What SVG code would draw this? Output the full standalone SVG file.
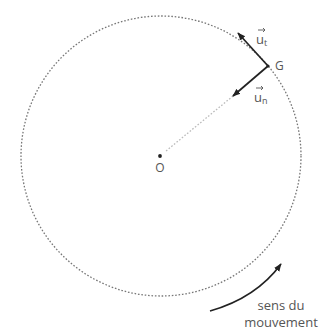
<svg xmlns="http://www.w3.org/2000/svg" width="328" height="333" viewBox="0 0 328 333">
<defs>
<marker id="ah" viewBox="0 0 10 10" refX="9" refY="5" markerWidth="8" markerHeight="8" orient="auto" markerUnits="userSpaceOnUse">
<path d="M0,1 L10,5 L0,9 Z" fill="#222"/>
</marker>
<marker id="ah2" viewBox="0 0 10 10" refX="9" refY="5" markerWidth="8" markerHeight="8" orient="auto" markerUnits="userSpaceOnUse">
<path d="M0,1 L10,5 L0,9 Z" fill="#222"/>
</marker>
</defs>
<style>
.lbl{font-family:"Open Sans","Noto Sans",sans-serif;fill:#555}
.vec{stroke:#222;stroke-width:1.7;fill:none}
.ar{stroke:#555;stroke-width:0.9;fill:none}
</style>
<rect width="328" height="333" fill="#fff"/>
<g id="circle">
<circle cx="161" cy="156" r="140" fill="none" stroke="#777" stroke-width="1.3" stroke-dasharray="1.6 1.8"/>
</g>
<g id="connectors">
<line x1="233" y1="96" x2="166" y2="151" stroke="#bbb" stroke-width="1.3" stroke-dasharray="1.6 1.8"/>
<line class="vec" x1="268" y1="66" x2="238" y2="33" marker-end="url(#ah)"/>
<line class="vec" x1="268" y1="66" x2="233" y2="96" marker-end="url(#ah)"/>
<path class="vec" d="M210,311 Q256,298 281,264" stroke-width="1.5" marker-end="url(#ah2)"/>
</g>
<g id="O">
<circle cx="160" cy="156" r="1.9" fill="#222"/>
<text class="lbl" x="160" y="172" font-size="12" text-anchor="middle">O</text>
</g>
<g id="G">
<circle cx="268" cy="66" r="1.6" fill="#222"/>
<text class="lbl" x="275" y="70" font-size="12">G</text>
</g>
<g id="ut">
<text class="lbl" x="256" y="44" font-size="13">u</text>
<text class="lbl" x="264" y="46" font-size="9">t</text>
<path class="ar" d="M258,30 L265,30 M263,28 L265,30 L263,32"/>
</g>
<g id="un">
<text class="lbl" x="254" y="102" font-size="13">u</text>
<text class="lbl" x="262" y="104" font-size="9">n</text>
<path class="ar" d="M256,88 L263,88 M261,86 L263,88 L261,90"/>
</g>
<g id="label">
<text class="lbl" x="281" y="310" font-size="13" text-anchor="middle">sens du</text>
<text class="lbl" x="281" y="327" font-size="13" text-anchor="middle">mouvement</text>
</g>
</svg>
